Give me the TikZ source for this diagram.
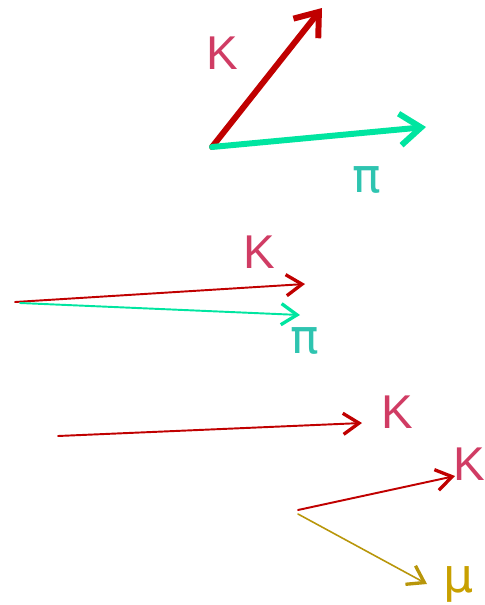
\documentclass[tikz,border=0pt]{standalone}
\usepackage{fontspec}
\setmainfont{Liberation Sans}
\newfontfamily\greekfont{DejaVu Sans}
\usetikzlibrary{arrows.meta,positioning}
\definecolor{kaonred}{RGB}{192,0,0}
\definecolor{kaontext}{RGB}{208,60,100}
\definecolor{piongreen}{RGB}{0,229,160}
\definecolor{piontext}{RGB}{46,196,176}
\definecolor{muongold}{RGB}{184,150,10}
\definecolor{muontext}{RGB}{200,160,0}
\begin{document}
\begin{tikzpicture}[x=0.02cm,y=-0.02cm,line cap=round,line join=round,
  thicktrack/.style={line width=3.4pt,-{Straight Barb[length=12pt,width=18pt]}},
  thintrack/.style={line width=1.1pt,-{Straight Barb[length=9pt,width=12pt,line width=1.9pt]}},
  partlabel/.style={font=\fontsize{27}{30}\selectfont,anchor=base,inner sep=0pt}]
 \useasboundingbox (0,0) rectangle (484,605);
 % Rozpad w spoczynku: K i pi z jednego punktu.
 \coordinate (restvtx) at (212,147);
 \coordinate (restK) at (322,8);
 \coordinate (restpi) at (426,127);
 \draw[thicktrack,kaonred] (restvtx)--(restK);
 \draw[thicktrack,piongreen] (restvtx)--(restpi);
 \node[partlabel,kaontext] (restKlab) at (222,69) {K};
 \node[partlabel,piontext] (restpilab) at (367,192) {\greekfont π};
 % Ten sam rozpad w ruchu: oba tory prawie równoległe.
 \coordinate (boostvtxK) at (15,302);
 \coordinate (boostvtxpi) at (20,303);
 \coordinate (boostK) at (305,284);
 \coordinate (boostpi) at (300,315);
 \draw[thintrack,kaonred] (boostvtxK)--(boostK);
 \draw[thintrack,piongreen] (boostvtxpi)--(boostpi);
 \node[partlabel,kaontext] (boostKlab) at (259,268) {K};
 \node[partlabel,piontext] (boostpilab) at (305,353) {\greekfont π};
 % Kaon, potem jego rozpad na K i mu.
 \coordinate (beamstart) at (58,436);
 \coordinate (beamK) at (362,423);
 \draw[thintrack,kaonred] (beamstart)--(beamK);
 \node[partlabel,kaontext] (beamKlab) at (397,428) {K};
 \coordinate (decayvtx) at (298,510);
 \coordinate (decayvtxmu) at (298,514);
 \coordinate (decayK) at (455,476);
 \coordinate (decaymu) at (427,584);
 \draw[thintrack,kaonred] (decayvtx)--(decayK);
 \draw[thintrack,muongold,line width=0.9pt] (decayvtxmu)--(decaymu);
 \node[partlabel,kaontext] (decayKlab) at (469,480) {K};
 \node[partlabel,muontext] (decaymulab) at (459,592) {\greekfont μ};
\end{tikzpicture}
\end{document}
